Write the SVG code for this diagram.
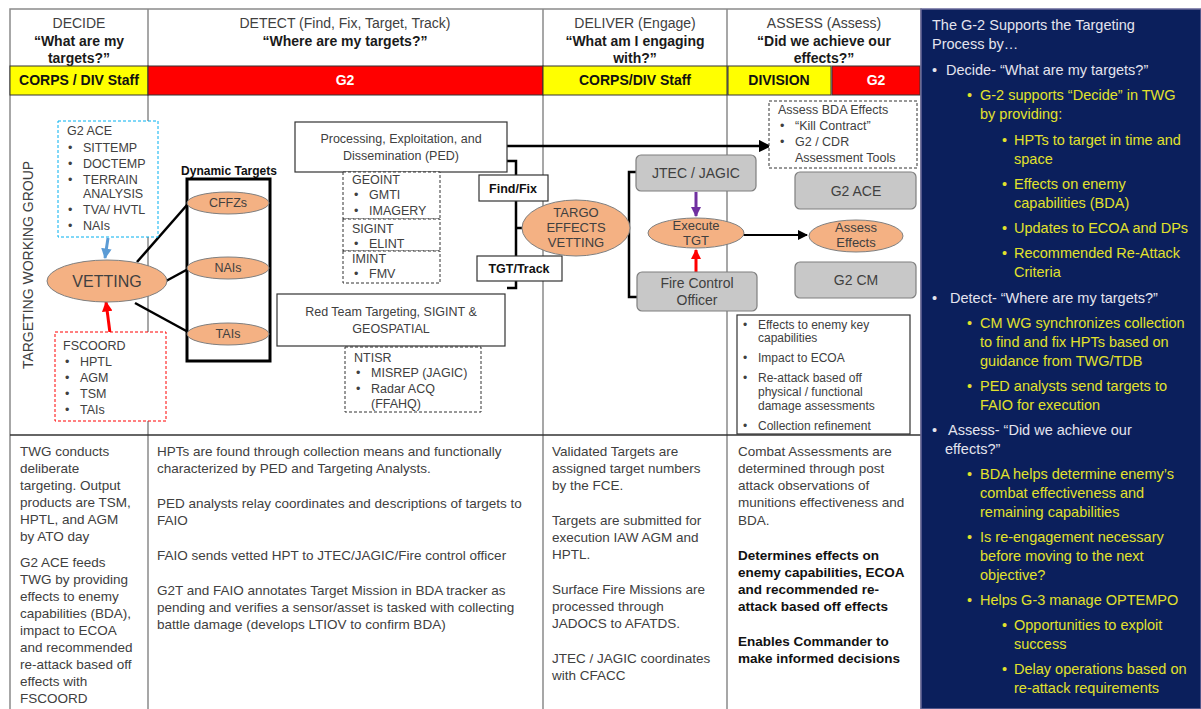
<svg xmlns="http://www.w3.org/2000/svg" width="1201" height="709" viewBox="0 0 1201 709">
<defs>
<style>
text{font-family:"Liberation Sans",Arial,sans-serif;fill:#404040}
.h{font-size:14px;text-anchor:middle}
.hb{font-size:14px;font-weight:bold;text-anchor:middle;fill:#1a1a1a}
.bar{font-size:14px;font-weight:bold;text-anchor:middle;fill:#111}
.barw{font-size:14px;font-weight:bold;text-anchor:middle;fill:#fff}
.grid{stroke:#8a8a8a;stroke-width:1.5;fill:none}
.s{font-size:12.5px}
.sm{font-size:12px}
.c{text-anchor:middle}
.body{font-size:13.5px}
.bd{font-size:13.5px;font-weight:bold;fill:#111}
.ell{fill:#F4B183;stroke:#7f7f7f;stroke-width:1}
.gbox{fill:#C8C8C8;stroke:#7f7f7f;stroke-width:1.2}
.box{fill:#fff;stroke:#333;stroke-width:1.2}
.dash{fill:#fff;stroke:#333;stroke-width:1;stroke-dasharray:3,2}
.ln{stroke:#000;stroke-width:2.5;fill:none}
.pw{font-size:14.5px;fill:#E4E4EE}
.py{font-size:14.5px;fill:#E2E22C}
</style>
<marker id="ab" viewBox="0 0 10 10" refX="9" refY="5" markerWidth="3.5" markerHeight="3.5" orient="auto"><path d="M0,0L10,5L0,10z" fill="#5B9BD5"/></marker>
<marker id="ar" viewBox="0 0 10 10" refX="9" refY="5" markerWidth="3.5" markerHeight="3.5" orient="auto"><path d="M0,0L10,5L0,10z" fill="#FF0000"/></marker>
<marker id="ap" viewBox="0 0 10 10" refX="9" refY="5" markerWidth="3.5" markerHeight="3.5" orient="auto"><path d="M0,0L10,5L0,10z" fill="#7030A0"/></marker>
<marker id="ak" viewBox="0 0 10 10" refX="9" refY="5" markerWidth="5" markerHeight="5" orient="auto"><path d="M0,0L10,5L0,10z" fill="#000"/></marker>
</defs>
<rect width="1201" height="709" fill="#fff"/>

<g id="table">
<rect x="10" y="9" width="911" height="710" class="grid"/>
<line x1="148" y1="9" x2="148" y2="709" class="grid"/>
<line x1="543" y1="9" x2="543" y2="709" class="grid"/>
<line x1="727" y1="9" x2="727" y2="709" class="grid"/>
<line x1="10" y1="435" x2="921" y2="435" stroke="#333" stroke-width="1.5"/>
<text x="79" y="28" class="h">DECIDE</text>
<text x="79" y="46" class="hb">“What are my</text>
<text x="79" y="63" class="hb">targets?”</text>
<text x="345" y="28" class="h">DETECT (Find, Fix, Target, Track)</text>
<text x="345" y="46" class="hb">“Where are my targets?”</text>
<text x="635" y="28" class="h">DELIVER (Engage)</text>
<text x="635" y="46" class="hb">“What am I engaging</text>
<text x="635" y="63" class="hb">with?”</text>
<text x="824" y="28" class="h">ASSESS (Assess)</text>
<text x="824" y="46" class="hb">“Did we achieve our</text>
<text x="824" y="63" class="hb">effects?”</text>
<rect x="10" y="66" width="138" height="29" fill="#FFFF00" stroke="#333" stroke-width="1"/>
<text x="79" y="85" class="bar">CORPS / DIV Staff</text>
<rect x="148" y="66" width="395" height="29" fill="#FF0000" stroke="#333" stroke-width="1"/>
<text x="345" y="85" class="barw">G2</text>
<rect x="543" y="66" width="184" height="29" fill="#FFFF00" stroke="#333" stroke-width="1"/>
<text x="635" y="85" class="bar">CORPS/DIV Staff</text>
<rect x="728" y="66" width="103" height="29" fill="#FFFF00" stroke="#333" stroke-width="1"/>
<text x="779" y="85" class="bar">DIVISION</text>
<rect x="832" y="66" width="88" height="29" fill="#FF0000" stroke="#333" stroke-width="1"/>
<text x="876" y="85" class="barw">G2</text>
<text transform="translate(33,265) rotate(-90)" class="h" style="font-size:14px">TARGETING  WORKING GROUP</text>
</g>

<g id="connectors">
<line x1="108" y1="238" x2="105" y2="258" stroke="#5B9BD5" stroke-width="3" marker-end="url(#ab)"/>
<line x1="110" y1="333" x2="106" y2="302" stroke="#FF0000" stroke-width="3" marker-end="url(#ar)"/>
<line x1="137" y1="262" x2="187" y2="205" class="ln"/>
<line x1="166" y1="281" x2="190" y2="268" class="ln"/>
<line x1="135" y1="303" x2="190" y2="333" class="ln"/>
<polyline points="507,161 516,161 516,288 507,288" class="ln"/>
<line x1="516" y1="228" x2="522" y2="228" class="ln"/>
<line x1="507" y1="146" x2="770" y2="146" stroke="#000" stroke-width="2.5" marker-end="url(#ak)"/>
<polyline points="636,172 629,172 629,297 637,297" class="ln"/>
<line x1="696" y1="192" x2="696" y2="216" stroke="#7030A0" stroke-width="3" marker-end="url(#ap)"/>
<line x1="696" y1="272" x2="696" y2="250" stroke="#FF0000" stroke-width="3" marker-end="url(#ar)"/>
<line x1="738" y1="235" x2="807" y2="235" stroke="#000" stroke-width="2" marker-end="url(#ak)"/>
</g>

<g id="g2ace-input">
<rect x="58" y="121" width="100" height="116" fill="#fff" stroke="#00B0F0" stroke-width="1" stroke-dasharray="3,2"/>
<text x="67" y="135" class="s">G2 ACE</text>
<text x="68" y="152" class="s">•</text><text x="83" y="152" class="s">SITTEMP</text>
<text x="68" y="168" class="s">•</text><text x="83" y="168" class="s">DOCTEMP</text>
<text x="68" y="184" class="s">•</text><text x="83" y="184" class="s">TERRAIN</text>
<text x="83" y="198" class="s">ANALYSIS</text>
<text x="68" y="214" class="s">•</text><text x="83" y="214" class="s">TVA/ HVTL</text>
<text x="68" y="230" class="s">•</text><text x="83" y="230" class="s">NAIs</text>
</g>

<g id="vetting">
<ellipse cx="107" cy="281" rx="60" ry="21" class="ell"/>
<text x="107" y="287" class="c" style="font-size:16px">VETTING</text>
</g>

<g id="fscoord">
<rect x="55" y="332" width="111" height="89" fill="#fff" stroke="#FF0000" stroke-width="1" stroke-dasharray="3,2"/>
<text x="63" y="350" class="s">FSCOORD</text>
<text x="65" y="366" class="s">•</text><text x="80" y="366" class="s">HPTL</text>
<text x="65" y="382" class="s">•</text><text x="80" y="382" class="s">AGM</text>
<text x="65" y="398" class="s">•</text><text x="80" y="398" class="s">TSM</text>
<text x="65" y="414" class="s">•</text><text x="80" y="414" class="s">TAIs</text>
</g>

<g id="dynamic-targets">
<text x="229" y="175" class="c" style="font-size:12px;font-weight:bold;fill:#111">Dynamic Targets</text>
<rect x="187" y="179" width="83" height="182" fill="none" stroke="#000" stroke-width="3"/>
<ellipse cx="228" cy="203" rx="41" ry="11" class="ell"/>
<text x="228" y="207" class="c s">CFFZs</text>
<ellipse cx="228" cy="268" rx="41" ry="11" class="ell"/>
<text x="228" y="272" class="c s">NAIs</text>
<ellipse cx="228" cy="334" rx="41" ry="11" class="ell"/>
<text x="228" y="338" class="c s">TAIs</text>
</g>

<g id="ped">
<rect x="295" y="122" width="212" height="50" class="box"/>
<text x="401" y="143" class="c s">Processing, Exploitation, and</text>
<text x="401" y="160" class="c s">Dissemination (PED)</text>
</g>

<g id="int-sources">
<rect x="343" y="172" width="97" height="47" class="dash"/>
<text x="352" y="184" class="s">GEOINT</text>
<text x="354" y="199" class="s">•</text><text x="369" y="199" class="s">GMTI</text>
<text x="354" y="215" class="s">•</text><text x="369" y="215" class="s">IMAGERY</text>
<rect x="343" y="219" width="97" height="32" class="dash"/>
<text x="352" y="233" class="s">SIGINT</text>
<text x="354" y="248" class="s">•</text><text x="369" y="248" class="s">ELINT</text>
<rect x="343" y="251" width="97" height="32" class="dash"/>
<text x="352" y="263" class="s">IMINT</text>
<text x="354" y="278" class="s">•</text><text x="369" y="278" class="s">FMV</text>
</g>

<g id="red-team">
<rect x="277" y="294" width="228" height="52" class="box"/>
<text x="391" y="316" class="c s">Red Team Targeting, SIGINT &amp;</text>
<text x="391" y="333" class="c s">GEOSPATIAL</text>
</g>

<g id="ntisr">
<rect x="345" y="347" width="136" height="65" class="dash"/>
<text x="354" y="362" class="s">NTISR</text>
<text x="356" y="377" class="s">•</text><text x="371" y="377" class="s">MISREP (JAGIC)</text>
<text x="356" y="393" class="s">•</text><text x="371" y="393" class="s">Radar ACQ</text>
<text x="371" y="408" class="s">(FFAHQ)</text>
</g>

<g id="findfix">
<rect x="479" y="175" width="69" height="26" class="box"/>
<text x="513" y="193" class="c" style="font-size:12.5px;font-weight:bold;fill:#111">Find/Fix</text>
</g>
<g id="tgttrack">
<rect x="477" y="256" width="85" height="25" class="box"/>
<text x="519" y="273" class="c" style="font-size:12.5px;font-weight:bold;fill:#111">TGT/Track</text>
</g>

<g id="targo">
<ellipse cx="576" cy="228" rx="54" ry="28" class="ell"/>
<text x="576" y="217" class="c" style="font-size:13px">TARGO</text>
<text x="576" y="232" class="c" style="font-size:13px">EFFECTS</text>
<text x="576" y="247" class="c" style="font-size:13px">VETTING</text>
</g>

<g id="jtec">
<rect x="636" y="155" width="120" height="36" rx="5" class="gbox"/>
<text x="696" y="178" class="c" style="font-size:14px">JTEC / JAGIC</text>
</g>
<g id="execute">
<ellipse cx="696" cy="233" rx="48" ry="15" class="ell"/>
<text x="696" y="230" class="c" style="font-size:13px">Execute</text>
<text x="696" y="245" class="c" style="font-size:13px">TGT</text>
</g>
<g id="fire-control">
<rect x="637" y="272" width="120" height="39" rx="5" class="gbox"/>
<text x="697" y="288" class="c" style="font-size:14px">Fire Control</text>
<text x="697" y="305" class="c" style="font-size:14px">Officer</text>
</g>

<g id="assess-bda">
<rect x="769" y="101" width="148" height="67" class="dash"/>
<text x="778" y="114" class="s">Assess BDA Effects</text>
<text x="780" y="130" class="s">•</text><text x="795" y="130" class="s">“Kill Contract”</text>
<text x="780" y="146" class="s">•</text><text x="795" y="146" class="s">G2 / CDR</text>
<text x="795" y="162" class="s">Assessment Tools</text>
</g>
<g id="g2ace">
<rect x="795" y="172" width="121" height="37" rx="5" class="gbox"/>
<text x="856" y="196" class="c" style="font-size:14px">G2 ACE</text>
</g>
<g id="assess-effects">
<ellipse cx="856" cy="236" rx="47" ry="16" class="ell"/>
<text x="856" y="232" class="c" style="font-size:13px">Assess</text>
<text x="856" y="247" class="c" style="font-size:13px">Effects</text>
</g>
<g id="g2cm">
<rect x="795" y="262" width="121" height="36" rx="5" class="gbox"/>
<text x="856" y="285" class="c" style="font-size:14px">G2 CM</text>
</g>

<g id="assess-list">
<rect x="737" y="315" width="173" height="119" fill="#fff" stroke="#333" stroke-width="1.2"/>
<text x="743" y="329" class="sm">•</text><text x="758" y="329" class="sm">Effects to enemy key</text>
<text x="758" y="342" class="sm">capabilities</text>
<text x="743" y="362" class="sm">•</text><text x="758" y="362" class="sm">Impact to ECOA</text>
<text x="743" y="382" class="sm">•</text><text x="758" y="382" class="sm">Re-attack based off</text>
<text x="758" y="396" class="sm">physical / functional</text>
<text x="758" y="410" class="sm">damage assessments</text>
<text x="743" y="430" class="sm">•</text><text x="758" y="430" class="sm">Collection refinement</text>
</g>

<g id="bottom-decide">
<text x="20" y="456" class="body">TWG conducts</text>
<text x="20" y="473" class="body">deliberate</text>
<text x="20" y="490" class="body">targeting.  Output</text>
<text x="20" y="507" class="body">products are TSM,</text>
<text x="20" y="524" class="body">HPTL, and AGM</text>
<text x="20" y="541" class="body">by ATO day</text>
<text x="20" y="567" class="body">G2 ACE feeds</text>
<text x="20" y="584" class="body">TWG by providing</text>
<text x="20" y="601" class="body">effects to enemy</text>
<text x="20" y="618" class="body">capabilities (BDA),</text>
<text x="20" y="635" class="body">impact to ECOA</text>
<text x="20" y="652" class="body">and recommended</text>
<text x="20" y="669" class="body">re-attack based off</text>
<text x="20" y="686" class="body">effects with</text>
<text x="20" y="703" class="body">FSCOORD</text>
</g>

<g id="bottom-detect">
<text x="157" y="456" class="body">HPTs are found through collection means and functionally</text>
<text x="157" y="473" class="body">characterized by PED and Targeting Analysts.</text>
<text x="157" y="508" class="body">PED analysts relay coordinates and descriptions of targets to</text>
<text x="157" y="525" class="body">FAIO</text>
<text x="157" y="560" class="body">FAIO sends vetted HPT to JTEC/JAGIC/Fire control officer</text>
<text x="157" y="595" class="body">G2T and FAIO annotates Target Mission in BDA tracker as</text>
<text x="157" y="612" class="body">pending and verifies a sensor/asset is tasked with collecting</text>
<text x="157" y="629" class="body">battle damage (develops LTIOV to confirm BDA)</text>
</g>

<g id="bottom-deliver">
<text x="552" y="456" class="body">Validated  Targets are</text>
<text x="552" y="473" class="body">assigned target numbers</text>
<text x="552" y="490" class="body">by the FCE.</text>
<text x="552" y="525" class="body">Targets are submitted for</text>
<text x="552" y="542" class="body">execution IAW AGM  and</text>
<text x="552" y="559" class="body">HPTL.</text>
<text x="552" y="594" class="body">Surface Fire Missions are</text>
<text x="552" y="611" class="body">processed through</text>
<text x="552" y="628" class="body">JADOCS to AFATDS.</text>
<text x="552" y="663" class="body">JTEC / JAGIC  coordinates</text>
<text x="552" y="680" class="body">with CFACC</text>
</g>

<g id="bottom-assess">
<text x="738" y="456" class="body">Combat Assessments are</text>
<text x="738" y="473" class="body">determined through post</text>
<text x="738" y="490" class="body">attack observations of</text>
<text x="738" y="507" class="body">munitions effectiveness and</text>
<text x="738" y="525" class="body">BDA.</text>
<text x="738" y="560" class="bd">Determines effects on</text>
<text x="738" y="577" class="bd">enemy capabilities, ECOA</text>
<text x="738" y="594" class="bd">and recommended re-</text>
<text x="738" y="611" class="bd">attack based off effects</text>
<text x="738" y="646" class="bd">Enables Commander to</text>
<text x="738" y="663" class="bd">make informed decisions</text>
</g>

<g id="g2-panel">
<rect x="921" y="9" width="280" height="700" fill="#0B1F5C" stroke="#6A6A9A" stroke-width="1.5"/>
<text x="932" y="30" class="pw">The G-2 Supports the Targeting</text>
<text x="932" y="49" class="pw">Process by…</text>
<text x="932" y="75" class="pw">•</text><text x="946" y="75" class="pw">Decide- “What are my targets?”</text>
<text x="967" y="100" class="py">•</text><text x="980" y="100" class="py">G-2 supports “Decide” in TWG</text>
<text x="980" y="119" class="py">by providing:</text>
<text x="1002" y="145" class="py">•</text><text x="1014" y="145" class="py">HPTs to target in time and</text>
<text x="1014" y="164" class="py">space</text>
<text x="1002" y="189" class="py">•</text><text x="1014" y="189" class="py">Effects on enemy</text>
<text x="1014" y="208" class="py">capabilities (BDA)</text>
<text x="1002" y="233" class="py">•</text><text x="1014" y="233" class="py">Updates to ECOA and DPs</text>
<text x="1002" y="258" class="py">•</text><text x="1014" y="258" class="py">Recommended Re-Attack</text>
<text x="1014" y="277" class="py">Criteria</text>
<text x="932" y="303" class="pw">•</text><text x="950" y="303" class="pw">Detect- “Where are my targets?”</text>
<text x="967" y="328" class="py">•</text><text x="980" y="328" class="py">CM WG synchronizes  collection</text>
<text x="980" y="347" class="py">to find and fix HPTs based on</text>
<text x="980" y="366" class="py">guidance from TWG/TDB</text>
<text x="967" y="391" class="py">•</text><text x="980" y="391" class="py">PED analysts  send targets to</text>
<text x="980" y="410" class="py">FAIO for execution</text>
<text x="932" y="435" class="pw">•</text><text x="948" y="435" class="pw">Assess- “Did we achieve our</text>
<text x="945" y="454" class="pw">effects?”</text>
<text x="967" y="479" class="py">•</text><text x="980" y="479" class="py">BDA helps determine enemy’s</text>
<text x="980" y="498" class="py">combat effectiveness and</text>
<text x="980" y="517" class="py">remaining capabilities</text>
<text x="967" y="542" class="py">•</text><text x="980" y="542" class="py">Is re-engagement necessary</text>
<text x="980" y="561" class="py">before moving to the next</text>
<text x="980" y="580" class="py">objective?</text>
<text x="967" y="605" class="py">•</text><text x="980" y="605" class="py">Helps G-3 manage OPTEMPO</text>
<text x="1002" y="630" class="py">•</text><text x="1014" y="630" class="py">Opportunities to exploit</text>
<text x="1014" y="649" class="py">success</text>
<text x="1002" y="674" class="py">•</text><text x="1014" y="674" class="py">Delay operations based on</text>
<text x="1014" y="693" class="py">re-attack requirements</text>
</g>
</svg>
